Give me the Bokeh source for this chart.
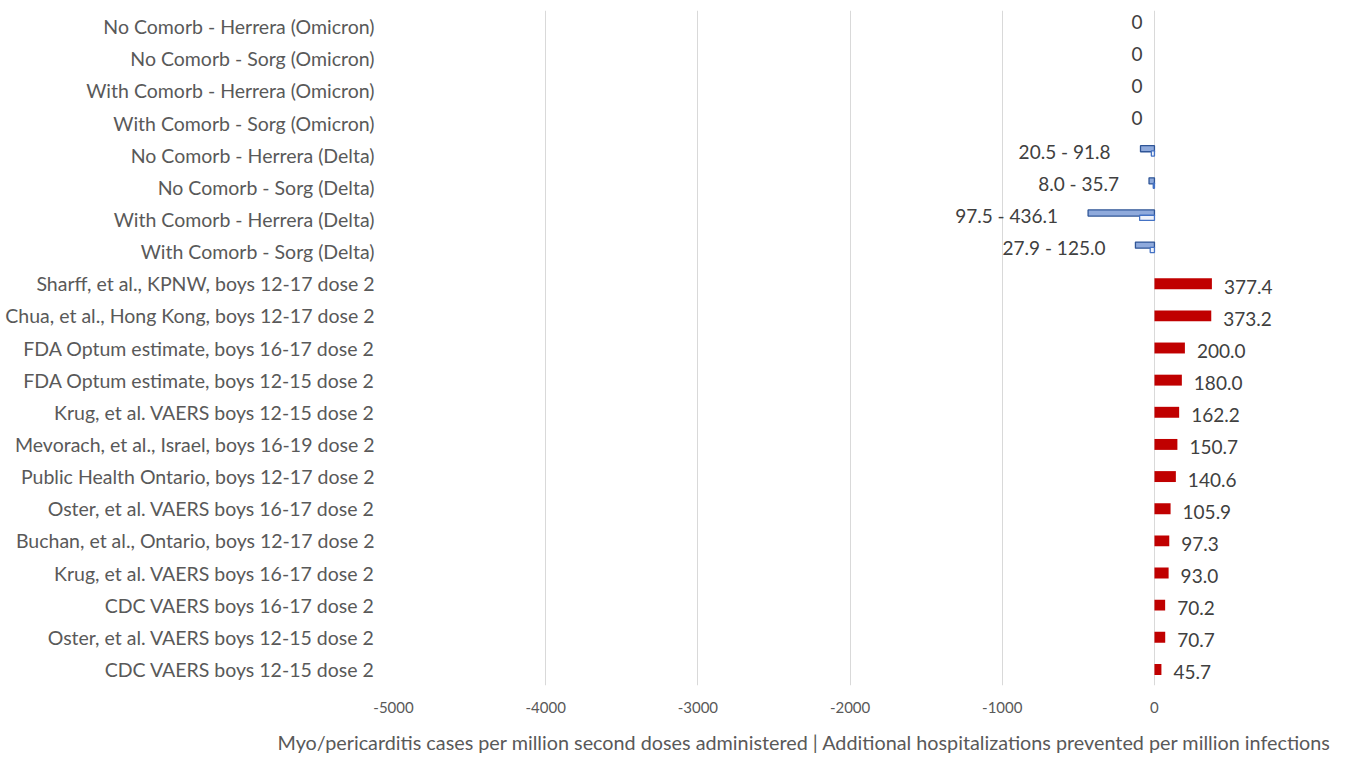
from bokeh.plotting import figure
from bokeh.models import ColumnDataSource, FactorRange, Range1d, FixedTicker, LabelSet, Title
from bokeh.transform import dodge
from bokeh.core.properties import value
from bokeh.embed import file_html
from bokeh.resources import INLINE

omicron_categories = [
    "No Comorb - Herrera (Omicron)",
    "No Comorb - Sorg (Omicron)",
    "With Comorb - Herrera (Omicron)",
    "With Comorb - Sorg (Omicron)",
]
omicron_values = [0, 0, 0, 0]

delta_categories = [
    "No Comorb - Herrera (Delta)",
    "No Comorb - Sorg (Delta)",
    "With Comorb - Herrera (Delta)",
    "With Comorb - Sorg (Delta)",
]
delta_low = [20.5, 8.0, 97.5, 27.9]
delta_high = [91.8, 35.7, 436.1, 125.0]

myo_categories = [
    "Sharff, et al., KPNW, boys 12-17 dose 2",
    "Chua, et al., Hong Kong, boys 12-17 dose 2",
    "FDA Optum estimate, boys 16-17 dose 2",
    "FDA Optum estimate, boys 12-15 dose 2",
    "Krug, et al. VAERS boys 12-15 dose 2",
    "Mevorach, et al., Israel, boys 16-19 dose 2",
    "Public Health Ontario, boys 12-17 dose 2",
    "Oster, et al. VAERS boys 16-17 dose 2",
    "Buchan, et al., Ontario, boys 12-17 dose 2",
    "Krug, et al. VAERS boys 16-17 dose 2",
    "CDC VAERS boys 16-17 dose 2",
    "Oster, et al. VAERS boys 12-15 dose 2",
    "CDC VAERS boys 12-15 dose 2",
]
myo_values = [377.4, 373.2, 200.0, 180.0, 162.2, 150.7, 140.6, 105.9, 97.3, 93.0, 70.2, 70.7, 45.7]

x_ticks = [-5000, -4000, -3000, -2000, -1000, 0]
x_tick_labels = [str(t) for t in x_ticks]
x_title = ("Myo/pericarditis cases per million second doses administered | "
           "Additional hospitalizations prevented per million infections")

categories = omicron_categories + delta_categories + myo_categories

FONT = "Lato"

p = figure(
    width=1341, height=765,
    y_range=FactorRange(factors=categories[::-1], range_padding=0),
    x_range=Range1d(-5000, 861),
    output_backend="svg", toolbar_location=None,
    min_border_left=393, min_border_right=56, min_border_top=10, min_border_bottom=77,
)
p.outline_line_color = None
p.background_fill_color = "white"

# Delta bars (negative side)
delta_src = ColumnDataSource(dict(
    cat=delta_categories,
    hi=[-v for v in delta_high],
    lo=[-v for v in delta_low],
    label=[f"{l:.1f} - {h:.1f}" for l, h in zip(delta_low, delta_high)],
))
p.hbar(y=dodge("cat", 0.2, range=p.y_range), left=0, right="hi", height=0.19,
       source=delta_src, fill_color="#8faadc", line_color="#2f5597", line_width=1.3)
p.hbar(y=dodge("cat", 0.05, range=p.y_range), left=0, right="lo", height=0.16,
       source=delta_src, fill_color="#eef2fa", line_color="#4472c4", line_width=1.3)

# Myocarditis bars (positive side)
myo_src = ColumnDataSource(dict(
    cat=myo_categories,
    val=myo_values,
    label=[f"{v:.1f}" for v in myo_values],
))
p.hbar(y="cat", left=0, right="val", height=0.34, source=myo_src,
       fill_color="#c00000", line_color=None)

omi_src = ColumnDataSource(dict(
    cat=omicron_categories,
    val=omicron_values,
    label=[f"{v:g}" for v in omicron_values],
))

label_style = dict(text_font=value(FONT), text_font_size=value("19px"),
                   text_color=value("#404040"), text_baseline=value("middle"))
p.add_layout(LabelSet(x="val", y="cat", text="label", source=myo_src,
                      x_offset=12, y_offset=-3, text_align=value("left"), **label_style))
p.add_layout(LabelSet(x="hi", y="cat", text="label", source=delta_src,
                      x_offset=-30, y_offset=4, text_align=value("right"), **label_style))
p.add_layout(LabelSet(x="val", y="cat", text="label", source=omi_src,
                      x_offset=-12, y_offset=5, text_align=value("right"), **label_style))

# Axes
p.xaxis.ticker = FixedTicker(ticks=x_ticks)
p.xaxis.major_label_overrides = dict(zip(x_ticks, x_tick_labels))
p.xaxis.axis_line_color = None
p.xaxis.major_tick_line_color = None
p.xaxis.minor_tick_line_color = None
p.xaxis.major_label_text_font = FONT
p.xaxis.major_label_text_font_size = "15px"
p.xaxis.major_label_text_color = "#595959"
p.xaxis.major_label_standoff = 10

p.add_layout(Title(text=x_title, align="left", offset=-116, text_font=FONT,
                   text_font_size="19.8px", text_font_style="normal",
                   text_color="#595959", standoff=24), "below")

p.yaxis.axis_line_color = None
p.yaxis.major_tick_line_color = None
p.yaxis.major_tick_out = 0
p.yaxis.major_label_text_font = FONT
p.yaxis.major_label_text_font_size = "19.5px"
p.yaxis.major_label_text_color = "#595959"
p.yaxis.major_label_standoff = 19

p.xgrid.grid_line_color = "#d9d9d9"
p.xgrid.grid_line_width = 1
p.ygrid.grid_line_color = None

open("out.html", "w").write(file_html(p, INLINE))
